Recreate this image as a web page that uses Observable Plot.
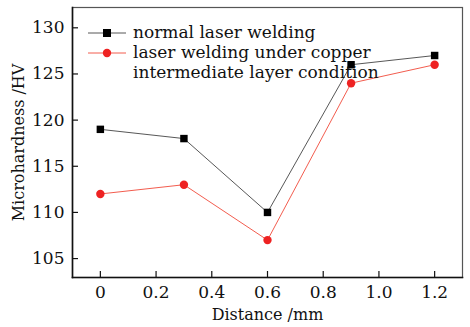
<!DOCTYPE html>
<html>
<head>
<meta charset="utf-8">
<script src="https://cdn.jsdelivr.net/npm/d3@7"></script>
<script src="https://cdn.jsdelivr.net/npm/@observablehq/plot@0.6"></script>
<style>
  html, body { margin: 0; padding: 0; background: #fff; }
  #wrap { position: relative; width: 470px; height: 327px; font-family: "DejaVu Serif", serif; }
  #legend { position: absolute; left: 87px; top: 22px; font-size: 17px; line-height: 20px; color: #111; }
  #legend .row { display: flex; align-items: flex-start; }
  #legend svg { flex: none; margin-right: 6px; }
</style>
</head>
<body>
<div id="wrap"></div>
<script>
const distance = [0, 0.3, 0.6, 0.9, 1.2];
const normalWelding = [119, 118, 110, 126, 127];
const copperWelding = [112, 113, 107, 124, 126];
const seriesNames = ["normal laser welding", "laser welding under copper", "intermediate layer condition"];
const xTicks = [0, 0.2, 0.4, 0.6, 0.8, 1.0, 1.2];
const yTicks = [105, 110, 115, 120, 125, 130];

const normal = distance.map((d, i) => ({x: d, y: normalWelding[i]}));
const copper = distance.map((d, i) => ({x: d, y: copperWelding[i]}));

const chart = Plot.plot({
  width: 470,
  height: 327,
  marginLeft: 72,
  marginRight: 8,
  marginTop: 7,
  marginBottom: 50,
  style: {fontFamily: "'DejaVu Serif', serif", fontSize: "17px", color: "#111", background: "#fff"},
  x: {domain: [-0.1, 1.3]},
  y: {domain: [102.95, 132.2]},
  marks: [
    Plot.frame({stroke: "#555", strokeWidth: 1.2}),
    Plot.frame({anchor: "left", stroke: "#111", strokeWidth: 1.6}),
    Plot.frame({anchor: "bottom", stroke: "#111", strokeWidth: 1.6}),
    Plot.axisX({ticks: xTicks, tickSize: -6, tickFormat: d => d === 0 ? "0" : d.toFixed(1), tickPadding: 14, fontSize: 17, stroke: "#111", strokeWidth: 1.2,
      label: "Distance /mm", labelAnchor: "center", labelArrow: "none", labelOffset: 42, fill: "#111"}),
    Plot.axisY({ticks: yTicks, tickSize: -6, tickPadding: 14, fontSize: 17, stroke: "#111", strokeWidth: 1.2,
      label: "Microhardness /HV", labelAnchor: "center", labelArrow: "none", labelOffset: 60, fill: "#111"}),
    Plot.line(normal, {x: "x", y: "y", stroke: "#444", strokeWidth: 0.9}),
    Plot.line(copper, {x: "x", y: "y", stroke: "#f04a3a", strokeWidth: 0.9}),
    Plot.dot(normal, {x: "x", y: "y", symbol: "square", r: 4.2, fill: "#000", stroke: "none"}),
    Plot.dot(copper, {x: "x", y: "y", symbol: "circle", r: 4.2, fill: "#ee2222", stroke: "none"})
  ]
});
chart.querySelectorAll("g[aria-label$='axis label']").forEach(g => g.setAttribute("font-size", 16));
document.getElementById("wrap").appendChild(chart);

const legend = document.createElement("div");
legend.id = "legend";
legend.innerHTML = `
  <div class="row"><svg width="40" height="20"><line x1="1" y1="11" x2="39" y2="11" stroke="#444" stroke-width="0.9"/><rect x="16" y="7" width="8" height="8" fill="#000"/></svg><span>${seriesNames[0]}</span></div>
  <div class="row"><svg width="40" height="20"><line x1="1" y1="11" x2="39" y2="11" stroke="#f04a3a" stroke-width="0.9"/><circle cx="20" cy="11" r="4.2" fill="#ee2222"/></svg><span>${seriesNames[1]}<br>${seriesNames[2]}</span></div>`;
document.getElementById("wrap").appendChild(legend);
</script>
</body>
</html>
